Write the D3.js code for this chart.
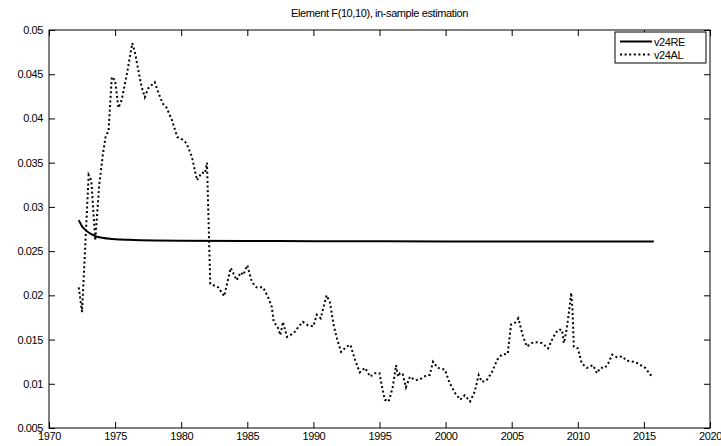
<!DOCTYPE html>
<html>
<head>
<meta charset="utf-8">
<script src="https://cdn.jsdelivr.net/npm/d3@7"></script>
<style>
  body { margin: 0; background: #fff; }
  svg text { font-family: "Liberation Sans", Arial, sans-serif; font-size: 11px; letter-spacing: -0.4px; fill: #000; }
</style>
</head>
<body>
<div id="chart"></div>
<script>
// x / y ticks
const xTicks = [1970, 1975, 1980, 1985, 1990, 1995, 2000, 2005, 2010, 2015, 2020];
const yTicks = [0.005, 0.01, 0.015, 0.02, 0.025, 0.03, 0.035, 0.04, 0.045, 0.05];
const yLabels = ['0.005', '0.01', '0.015', '0.02', '0.025', '0.03', '0.035', '0.04', '0.045', '0.05'];

// v24RE (solid)
const reDates  = [1972.25, 1972.5, 1972.75, 1973.0, 1973.5, 1974.0, 1975.0, 1976.0, 1978.0, 1980.0, 1985.0, 1990.0, 2000.0, 2010.0, 2015.75];
const reValues = [0.0285, 0.0278, 0.0274, 0.0271, 0.0267, 0.0265, 0.02635, 0.02628, 0.0262, 0.02617, 0.02614, 0.02612, 0.0261, 0.0261, 0.02608];

// v24AL (dotted)
const alDates = [1972.25, 1972.5, 1973.0, 1973.2, 1973.5, 1973.8, 1974.1, 1974.3, 1974.5, 1974.75,
  1975.0, 1975.25, 1975.5, 1975.9, 1976.3, 1976.5, 1976.75, 1977.0, 1977.25, 1977.5,
  1978.0, 1978.25, 1978.6, 1978.9, 1979.3, 1979.7, 1980.1, 1980.4, 1980.8, 1981.2,
  1981.55, 1981.8, 1981.95, 1982.2, 1982.8, 1983.25, 1983.75, 1984.2, 1984.5, 1984.7,
  1985.0, 1985.35, 1985.7, 1986.2, 1986.6, 1986.85, 1987.0, 1987.3, 1987.5, 1987.7,
  1988.0, 1988.5, 1988.8, 1989.2, 1989.6, 1990.0, 1990.25, 1990.55, 1991.0, 1991.25,
  1991.55, 1991.8, 1992.1, 1992.5, 1992.8, 1993.15, 1993.5, 1993.9, 1994.3, 1994.65,
  1995.0, 1995.2, 1995.4, 1995.7, 1996.0, 1996.25, 1996.4, 1996.55, 1996.75, 1997.0,
  1997.3, 1997.7, 1998.05, 1998.6, 1998.8, 1999.05, 1999.4, 1999.95, 2000.3, 2000.7,
  2001.1, 2001.45, 2001.85, 2002.2, 2002.5, 2002.75, 2003.1, 2003.5, 2003.9, 2004.25,
  2004.7, 2004.95, 2005.25, 2005.5, 2005.85, 2006.15, 2006.5, 2006.9, 2007.3, 2007.75,
  2008.15, 2008.5, 2008.8, 2008.95, 2009.15, 2009.35, 2009.5, 2009.6, 2009.7, 2010.0,
  2010.3, 2010.7, 2011.15, 2011.45, 2011.7, 2012.05, 2012.3, 2012.6, 2012.95, 2013.35,
  2013.7, 2014.2, 2014.55, 2015.1, 2015.5, 2015.75];
const alValues = [0.0209, 0.0181, 0.0336, 0.0330, 0.0262, 0.0325, 0.0362, 0.0381, 0.0385, 0.0447,
  0.0443, 0.0412, 0.0421, 0.0451, 0.0485, 0.0475, 0.0455, 0.0436, 0.0424, 0.0434,
  0.0441, 0.0430, 0.0417, 0.0412, 0.0398, 0.0379, 0.0376, 0.0372, 0.0357, 0.0330,
  0.0339, 0.0338, 0.0350, 0.0213, 0.0209, 0.0199, 0.0231, 0.0217, 0.0226, 0.0223,
  0.0234, 0.0215, 0.0209, 0.0209, 0.0197, 0.0187, 0.0170, 0.0164, 0.0155, 0.0170,
  0.0153, 0.0157, 0.0163, 0.0170, 0.0166, 0.0165, 0.0178, 0.0174, 0.0200, 0.0192,
  0.0165, 0.0150, 0.0136, 0.0142, 0.0144, 0.0127, 0.0113, 0.0118, 0.0108, 0.0112,
  0.0112, 0.0096, 0.0082, 0.0080, 0.0096, 0.0121, 0.0108, 0.0112, 0.0111, 0.0096,
  0.0108, 0.0104, 0.0105, 0.0110, 0.0110, 0.0125, 0.0118, 0.0116, 0.0101, 0.0090,
  0.0082, 0.0087, 0.0080, 0.0091, 0.0110, 0.0102, 0.0104, 0.0113, 0.0127, 0.0133,
  0.0134, 0.0167, 0.0169, 0.0174, 0.0154, 0.0142, 0.0146, 0.0147, 0.0146, 0.0140,
  0.0153, 0.0161, 0.0161, 0.0146, 0.0161, 0.0183, 0.0203, 0.0183, 0.0142, 0.0140,
  0.0123, 0.0118, 0.0121, 0.0112, 0.0118, 0.0118, 0.0123, 0.0133, 0.0130, 0.0131,
  0.0126, 0.0125, 0.0123, 0.0118, 0.0110, 0.0112];

const W = 721, H = 446;
const margin = { top: 30, right: 11, bottom: 18, left: 49 };

const svg = d3.select('#chart').append('svg').attr('width', W).attr('height', H);

const x = d3.scaleLinear().domain([1970, 2020]).range([margin.left, W - margin.right]);
const y = d3.scaleLinear().domain([0.005, 0.05]).range([H - margin.bottom, margin.top]);

// title
svg.append('text')
  .attr('x', (x.range()[0] + x.range()[1]) / 2)
  .attr('y', 17)
  .attr('text-anchor', 'middle')
  .text('Element F(10,10), in-sample estimation');

// axes, ticks pointing inward like matlab
const tick = 6;
svg.append('g').attr('transform', `translate(0,${y(0.005)})`)
  .call(d3.axisBottom(x).tickValues(xTicks).tickFormat(d3.format('d')).tickSize(-tick).tickSizeOuter(0).tickPadding(4));
svg.append('g').attr('transform', `translate(0,${y(0.05)})`)
  .call(d3.axisTop(x).tickValues(xTicks).tickFormat('').tickSize(-tick).tickSizeOuter(0));
svg.append('g').attr('transform', `translate(${x(1970)},0)`)
  .call(d3.axisLeft(y).tickValues(yTicks).tickFormat((d, i) => yLabels[i]).tickSize(-tick).tickSizeOuter(0).tickPadding(6));
svg.append('g').attr('transform', `translate(${x(2020)},0)`)
  .call(d3.axisRight(y).tickValues(yTicks).tickFormat('').tickSize(-tick).tickSizeOuter(0));

svg.selectAll('.domain').remove();
svg.selectAll('.tick line').attr('stroke', '#000');
svg.selectAll('.tick text').attr('font-family', null).attr('font-size', null);

svg.append('rect')
  .attr('x', x(1970)).attr('y', y(0.05))
  .attr('width', x(2020) - x(1970)).attr('height', y(0.005) - y(0.05))
  .attr('fill', 'none').attr('stroke', '#000').attr('stroke-width', 1);

const reData = reDates.map((d, i) => [d, reValues[i]]);
const alData = alDates.map((d, i) => [d, alValues[i]]);

const line = d3.line().x(d => x(d[0])).y(d => y(d[1])).curve(d3.curveMonotoneX);
const lineL = d3.line().x(d => x(d[0])).y(d => y(d[1]));

svg.append('path').datum(reData)
  .attr('d', line)
  .attr('fill', 'none').attr('stroke', '#000').attr('stroke-width', 2);

svg.append('path').datum(alData)
  .attr('d', lineL)
  .attr('fill', 'none').attr('stroke', '#000').attr('stroke-width', 2)
  .attr('stroke-dasharray', '2,2.6');

// legend
const lg = svg.append('g');
lg.append('rect').attr('x', 615).attr('y', 32).attr('width', 91).attr('height', 31)
  .attr('fill', '#fff').attr('stroke', '#000').attr('stroke-width', 1);
const items = [
  { name: 'v24RE', dash: null },
  { name: 'v24AL', dash: '2,2.6' }
];
items.forEach((it, i) => {
  const yy = 41.5 + i * 13;
  lg.append('line').attr('x1', 620).attr('x2', 652).attr('y1', yy).attr('y2', yy)
    .attr('stroke', '#000').attr('stroke-width', 2).attr('stroke-dasharray', it.dash);
  lg.append('text').attr('x', 654).attr('y', yy + 4).text(it.name);
});
</script>
</body>
</html>
